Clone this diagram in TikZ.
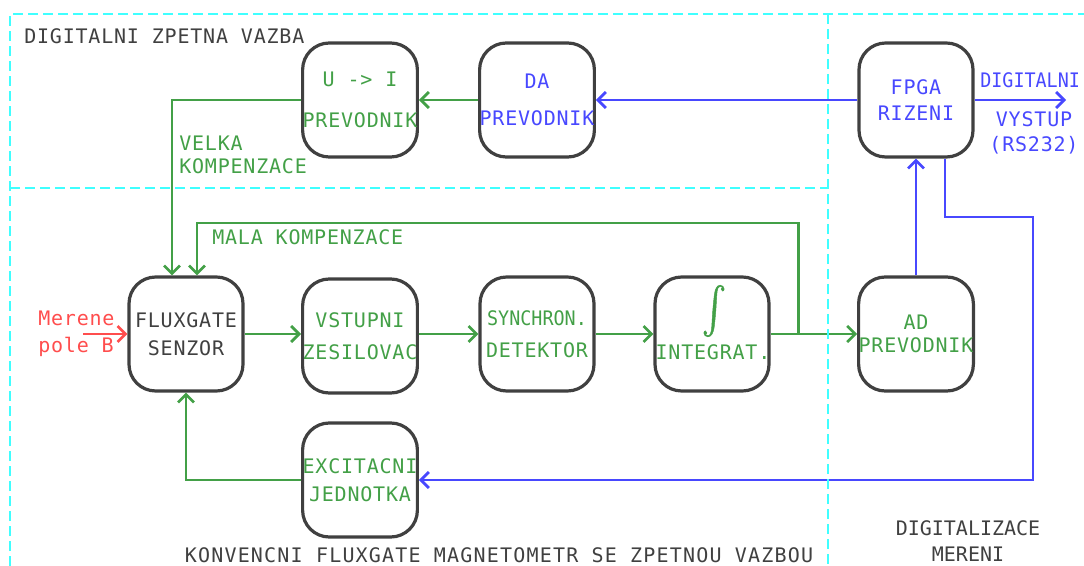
\documentclass[tikz,border=0pt]{standalone}
\usepackage{fontspec}
\usepackage{graphicx}
\newfontfamily\mono[LetterSpace=4]{DejaVu Sans Mono}
\newfontfamily\monotight{DejaVu Sans Mono}
\newfontfamily\mononarrow[FakeStretch=0.92]{DejaVu Sans Mono}
\newfontfamily\intfont[FakeBold=1.2]{latinmodern-math.otf}
\usetikzlibrary{arrows.meta,calc}
\definecolor{grn}{RGB}{67,160,71}
\definecolor{blu}{RGB}{72,72,255}
\definecolor{rd}{RGB}{255,77,77}
\definecolor{gry}{RGB}{64,64,64}
\definecolor{cyn}{RGB}{64,255,255}
\newcommand{\labfont}{\mono\fontsize{15}{18}\selectfont}
\tikzset{
  blk/.style={draw=gry, fill=white, line width=2.4pt, rounded corners=20pt,
    minimum width=85.5pt, minimum height=85.5pt, inner sep=0pt, align=center,
    font=\labfont},
  lbl/.style={inner sep=0pt, font=\labfont},
  wire/.style={line width=2pt, -{Straight Barb[length=6pt,width=12pt]}},
  zone/.style={cyn, line width=2.2pt, dash pattern=on 7.5pt off 3.75pt},
}
\begin{document}
\begin{tikzpicture}[x=0.75pt,y=-0.75pt]
\useasboundingbox (0,0) rectangle (1084,566);

% --- blocks ---
\node[blk, text=grn] (ui)    at (360,100) {U -> I\\[13pt]PREVODNIK};
\node[blk, text=blu] (da)    at (537,100) {DA\\[10pt]PREVODNIK};
\node[blk, text=blu] (fpga)  at (916,100) {FPGA\\[2pt]RIZENI};
\node[blk, text=gry] (flux)  at (186,334) {FLUXGATE\\[3pt]SENZOR};
\node[blk, text=grn] (vst)   at (360,336) {VSTUPNI\\[6pt]ZESILOVAC};
\node[blk, text=grn] (syn)   at (537,334) {{\mononarrow SYNCHRON.}\\[6pt]DETEKTOR};
\node[blk, text=grn] (integ) at (712,334) {};
\node[blk, text=grn] (ad)    at (916,334) {AD\\[-1pt]PREVODNIK};
\node[blk, text=grn] (exc)   at (360,480) {EXCITACNI\\[3pt]JEDNOTKA};
\node[lbl, text=grn] (intsym) at ($(integ.center)+(2,-23)$) {\scalebox{0.95}[1.2]{\intfont\fontsize{29}{29}\selectfont ∫}};
\node[lbl, text=grn] (intlbl) at ($(integ.center)+(1,18)$) {INTEGRAT.};

% --- free ends ---
\coordinate (bin)  at (83,334);
\coordinate (out)  at (1066,100);
\coordinate (tap)  at ($(integ.east)+(28,0)$);
\coordinate (mtop) at (0,223);
\coordinate (rt)   at (1033,217);

% --- green signal path ---
\draw[wire, grn] (da.west) -- (ui.east);
\draw[wire, grn] (ui.west) -| ($(flux.north)+(-14,0)$);
\draw[wire, grn] (flux.east) -- (vst.west |- flux.east);
\draw[wire, grn] (vst.east |- syn.west) -- (syn.west);
\draw[wire, grn] (syn.east) -- (integ.west);
\draw[wire, grn] (integ.east) -- (ad.west);
\draw[wire, grn] (tap) -- (tap |- mtop) -| ($(flux.north)+(11,0)$);
\draw[wire, grn] (exc.west) -| (flux.south);

% --- blue digital path ---
\draw[wire, blu] (fpga.west) -- (da.east);
\draw[wire, blu] (fpga.east) -- (out);
\draw[wire, blu] (ad.north) -- (fpga.south);
\draw[wire, blu] ($(fpga.south)+(29,0)$) |- (rt) |- (exc.east);

% --- measured field input ---
\draw[wire, rd] (bin) -- (flux.west);

% --- labels ---
\node[lbl, text=gry, anchor=west] (tdz) at (24,36) {DIGITALNI ZPETNA VAZBA};
\node[lbl, text=grn, anchor=west, align=left] (tvk) at (179,155) {VELKA\\[-0.4pt]KOMPENZACE};
\node[lbl, text=grn, anchor=west] (tmk) at (212,237) {MALA KOMPENZACE};
\node[lbl, text=rd, anchor=west, align=left] (tmp) at (38,334) {Merene\\[2pt]pole B};
\node[lbl, text=blu, anchor=west] (tdig) at (980,80) {\mononarrow DIGITALNI};
\node[lbl, text=blu, align=center] (tvys) at (1034,132.5) {VYSTUP\\[0.75pt](RS232)};
\node[lbl, text=gry] (tkon) at (499,555) {\addfontfeatures{LetterSpace=6}KONVENCNI FLUXGATE MAGNETOMETR SE ZPETNOU VAZBOU};
\node[lbl, text=gry, align=center] (tdm) at (968,541.5) {\monotight DIGITALIZACE\\[1.5pt]\monotight MERENI};

% --- zone borders ---
\draw[zone] (10,566) -- (10,14) -- (1084,14);
\draw[zone] (10,188) -- (828,188);
\draw[zone] (828,14) -- (828,566);
\end{tikzpicture}
\end{document}
